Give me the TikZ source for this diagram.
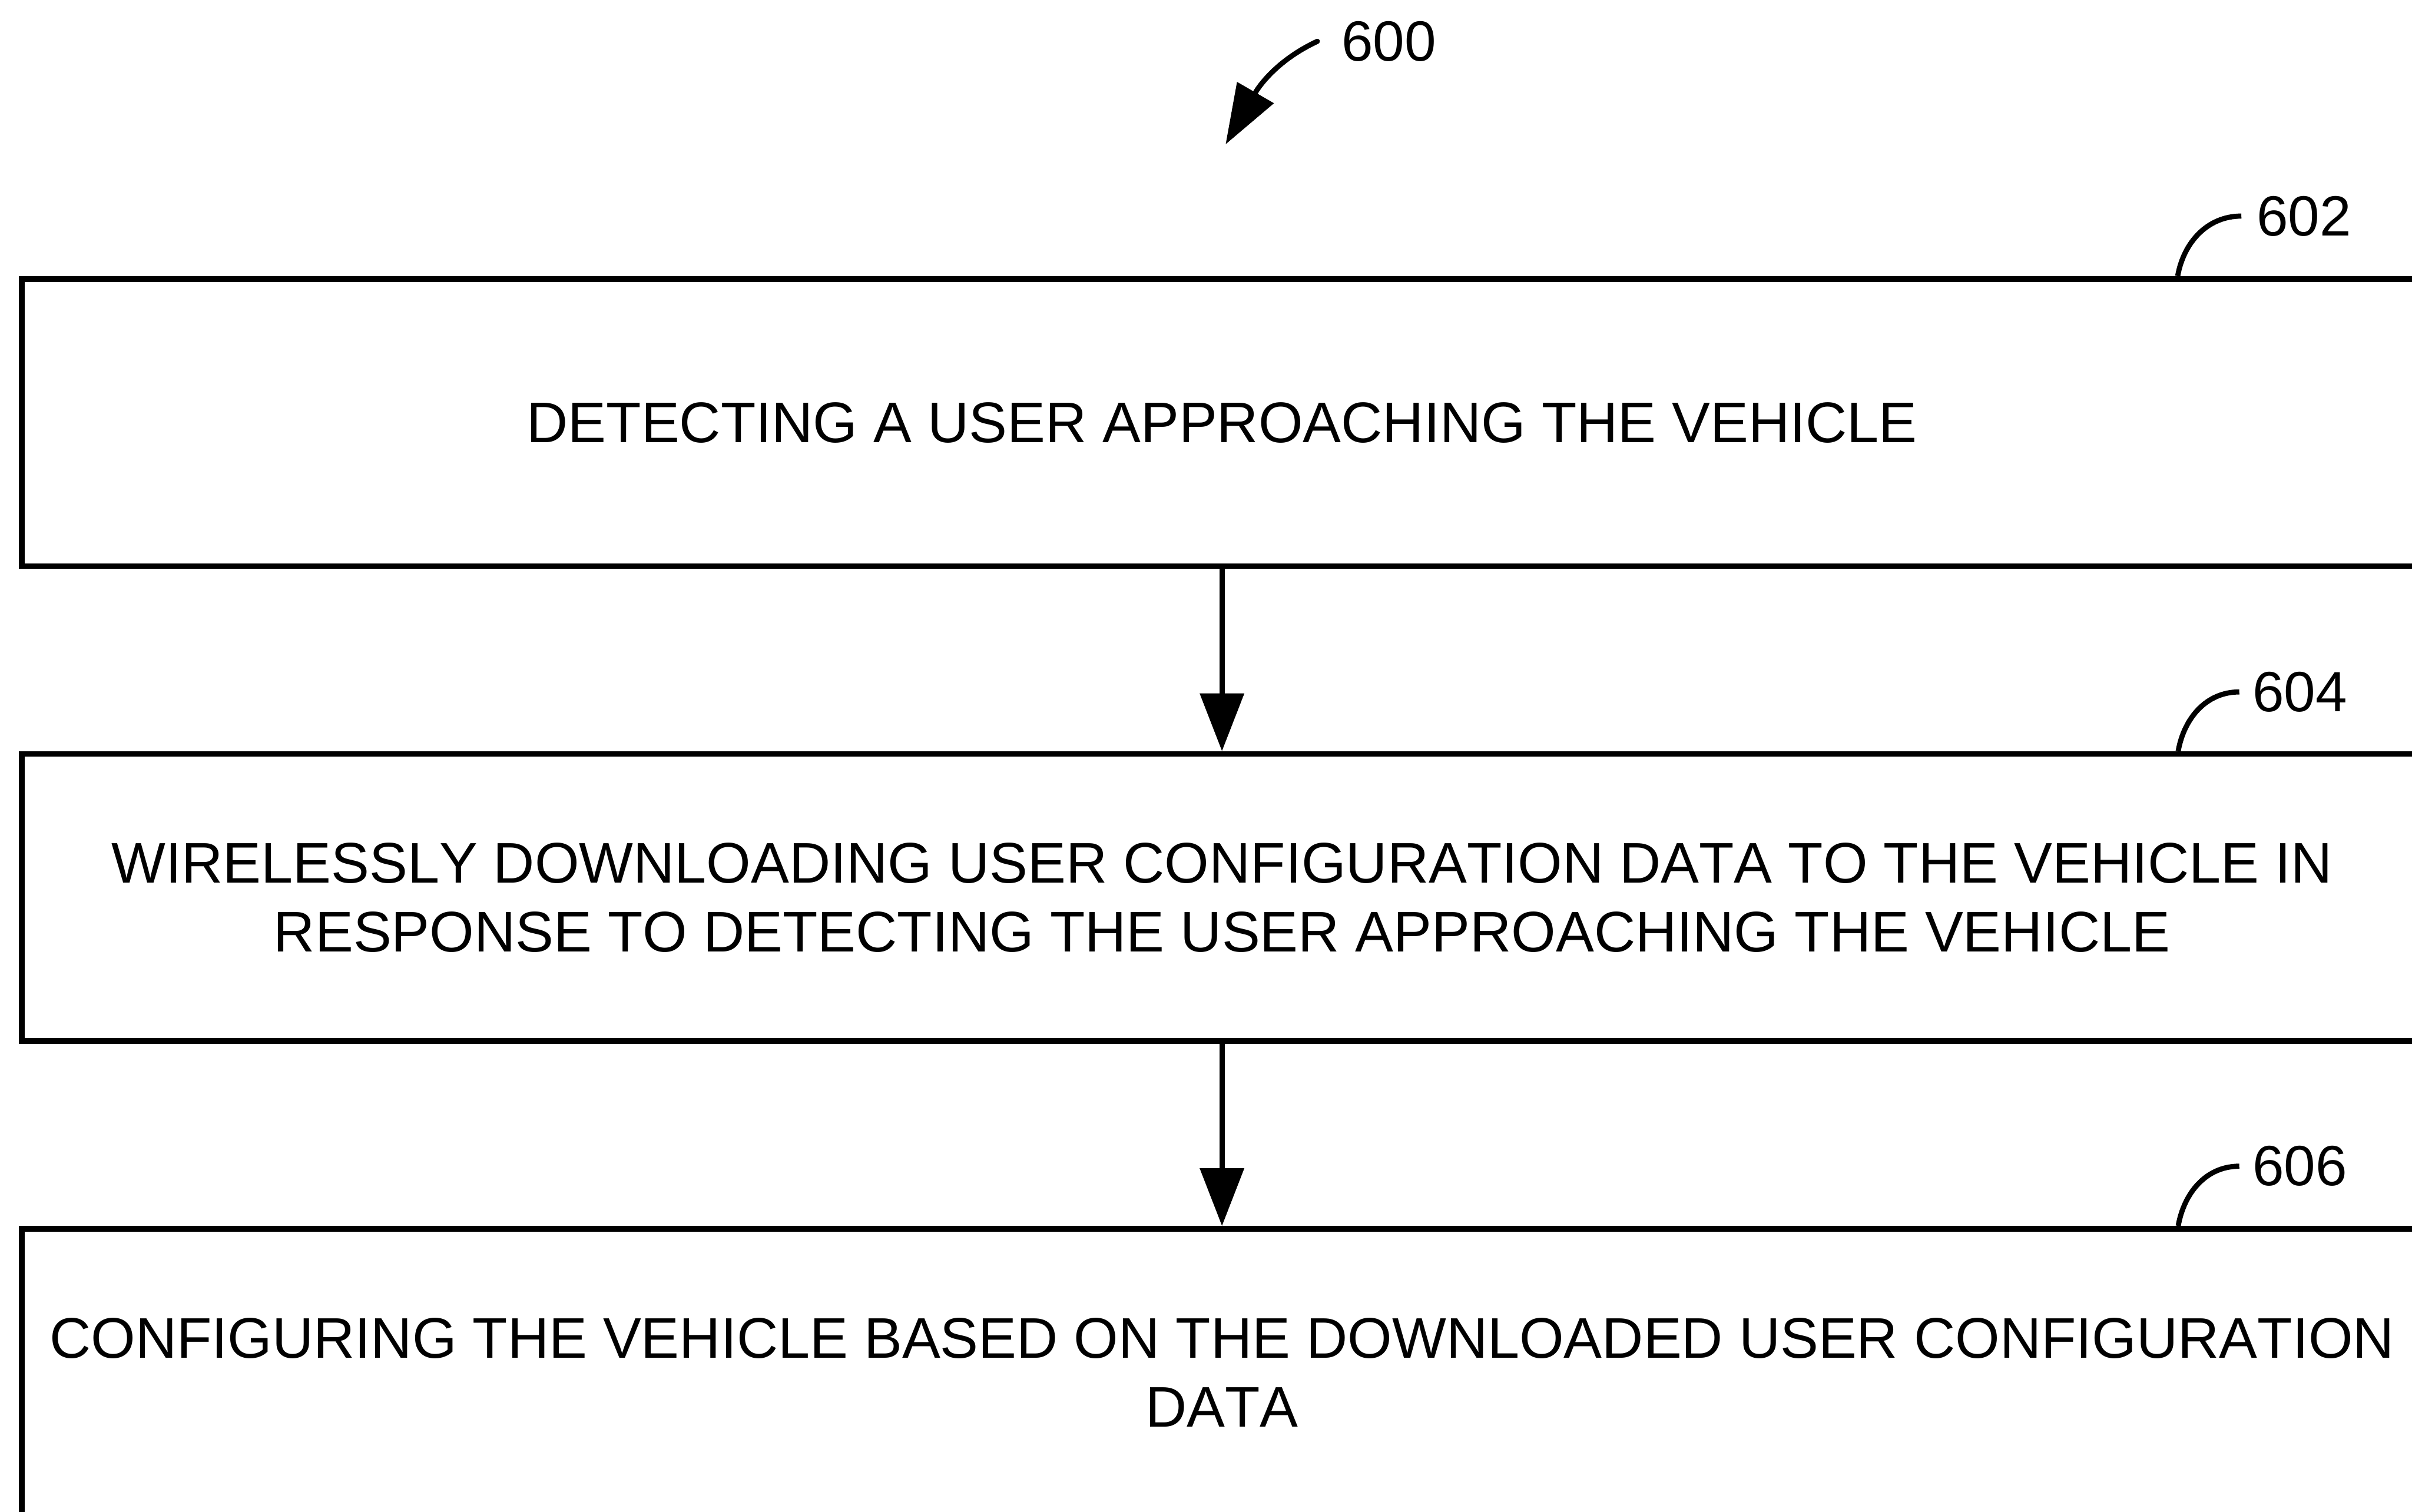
\documentclass[tikz,border=0pt]{standalone}
\usepackage{fontspec}
\setmainfont[Kerning=Off]{Liberation Sans}
\usetikzlibrary{arrows.meta}
\begin{document}
\begin{tikzpicture}[
  stepbox/.style={draw, line width=0.11cm, minimum width=46.56cm, minimum height=5.57cm,
    inner sep=0pt, align=center, font=\fontsize{31.6pt}{38.1pt}\selectfont},
  reflabel/.style={inner sep=0pt, anchor=base west, font=\fontsize{31.3pt}{38pt}\selectfont},
  flow/.style={line width=0.1cm, -{Triangle[width=0.84cm,length=1.12cm]}},
  leader/.style={line width=0.1cm},
]
\useasboundingbox (0,0) rectangle (46.78,-29.32);
\clip (0,0) rectangle (46.78,-29.32);

% process steps
\node[stepbox] (b602) at (23.70,-8.195) {DETECTING A USER APPROACHING THE VEHICLE};
\node[stepbox] (b604) at (23.70,-17.41) {WIRELESSLY DOWNLOADING USER CONFIGURATION DATA TO THE VEHICLE IN\\RESPONSE TO DETECTING THE USER APPROACHING THE VEHICLE};
\node[stepbox] (b606) at (23.70,-26.62) {CONFIGURING THE VEHICLE BASED ON THE DOWNLOADED USER CONFIGURATION\\DATA};

% flow between steps
\draw[flow] (b602.south) -- (b604.north);
\draw[flow] (b604.south) -- (b606.north);

% reference numerals
\node[reflabel] (l600) at (26.01,-1.18) {600};
\node[reflabel] (l602) at (43.76,-4.57) {602};
\node[reflabel] (l604) at (43.68,-13.80) {604};
\node[reflabel] (l606) at (43.68,-23.00) {606};

% leader lines to the steps
\draw[leader] ([xshift=-4.80cm]b602.north east) to[out=80,in=180] ([xshift=-0.29cm]l602.west);
\draw[leader] ([xshift=-4.79cm]b604.north east) to[out=80,in=180] ([xshift=-0.25cm]l604.west);
\draw[leader] ([xshift=-4.79cm]b606.north east) to[out=80,in=180] ([xshift=-0.25cm]l606.west);

% figure pointer
\coordinate (c600) at (23.77,-2.80);
\draw[line width=0.1cm, line cap=round, -{Triangle[width=0.80cm,length=1.16cm]}]
  ([xshift=-0.46cm]l600.west) to[out=205,in=60] (c600);
\end{tikzpicture}
\end{document}
